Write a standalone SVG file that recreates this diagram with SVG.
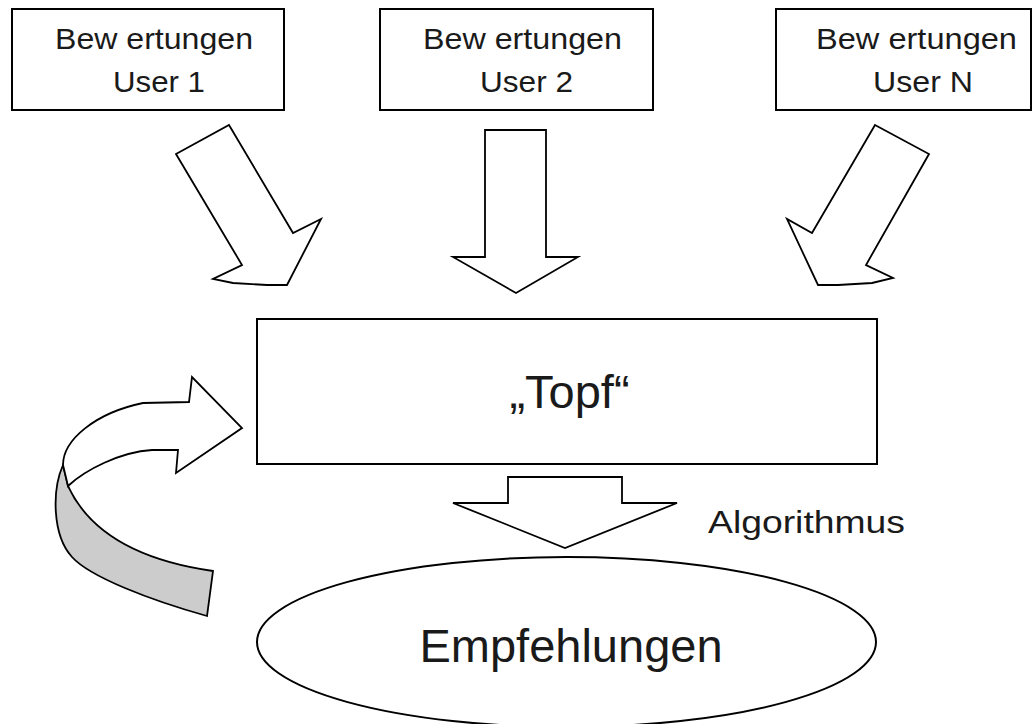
<svg xmlns="http://www.w3.org/2000/svg" width="1034" height="724" viewBox="0 0 1034 724">
  <style>
    .box { fill: #fff; stroke: #000; stroke-width: 2; }
    .arrow { fill: #fff; stroke: #000; stroke-width: 1.8; stroke-linejoin: miter; }
    .back { fill: #cccccc; stroke: #000; stroke-width: 1.8; }
    .lbl { font-family: "Liberation Sans", Arial, sans-serif; fill: #1a1a1a; }
    .small { font-size: 29px; }
    .big { font-size: 47px; }
  </style>
  <rect width="1034" height="724" fill="#fff"/>

  <!-- rating sources -->
  <g id="user1">
    <rect class="box" x="12" y="9" width="272" height="101"/>
    <text class="lbl small" x="154" y="49" text-anchor="middle" textLength="198" lengthAdjust="spacingAndGlyphs">Bew ertungen</text>
    <text class="lbl small" x="159" y="92" text-anchor="middle" textLength="92" lengthAdjust="spacingAndGlyphs">User 1</text>
  </g>
  <g id="user2">
    <rect class="box" x="380" y="9" width="273" height="101"/>
    <text class="lbl small" x="522.5" y="49" text-anchor="middle" textLength="199" lengthAdjust="spacingAndGlyphs">Bew ertungen</text>
    <text class="lbl small" x="526.5" y="92" text-anchor="middle" textLength="93" lengthAdjust="spacingAndGlyphs">User 2</text>
  </g>
  <g id="userN">
    <rect class="box" x="776" y="9" width="255" height="101"/>
    <text class="lbl small" x="916.5" y="49" text-anchor="middle" textLength="201" lengthAdjust="spacingAndGlyphs">Bew ertungen</text>
    <text class="lbl small" x="923" y="92" text-anchor="middle" textLength="100" lengthAdjust="spacingAndGlyphs">User N</text>
  </g>

  <!-- pool -->
  <g id="topf">
    <rect class="box" x="257" y="319" width="620" height="145"/>
    <text class="lbl big" x="569.5" y="408" text-anchor="middle">„Topf“</text>
  </g>

  <!-- recommendations -->
  <g id="empfehlungen">
    <ellipse class="box" cx="566.5" cy="642" rx="309.5" ry="85" stroke-width="1.8"/>
    <text class="lbl big" x="571" y="662" text-anchor="middle">Empfehlungen</text>
  </g>

  <!-- block arrows -->
  <g id="connectors">
    <polygon class="arrow" points="176,154 229,125 293,233 321,219 287,285 267,285 233,283 213,279 242,265"/>
    <polygon class="arrow" points="485,130 546,130 546,257 578,257 516,293 453,257 485,257"/>
    <polygon class="arrow" points="875,125 929,154 866,265 893,278 872,283 838,285 818,285 787,219 812,233"/>
    <polygon class="arrow" points="508,477 622,477 622,503 677,503 565,548 453,503 508,503"/>
    <text class="lbl" x="708" y="533" font-size="32" textLength="197" lengthAdjust="spacingAndGlyphs">Algorithmus</text>

    <!-- feedback loop arrow -->
    <g id="loop">
      <path class="back" d="M 63,465 C 52,490 52,535 72,557 C 90,577 150,600 207,616 L 213,571 C 150,562 92,538 68,486 Z"/>
      <path class="arrow" d="M 63,465 C 63,440 95,413 143,403 L 189,402 L 192,377 L 242,428 L 176,473 L 178,450 L 152,450 C 120,452 85,470 68,486 Z"/>
    </g>
  </g>
</svg>
